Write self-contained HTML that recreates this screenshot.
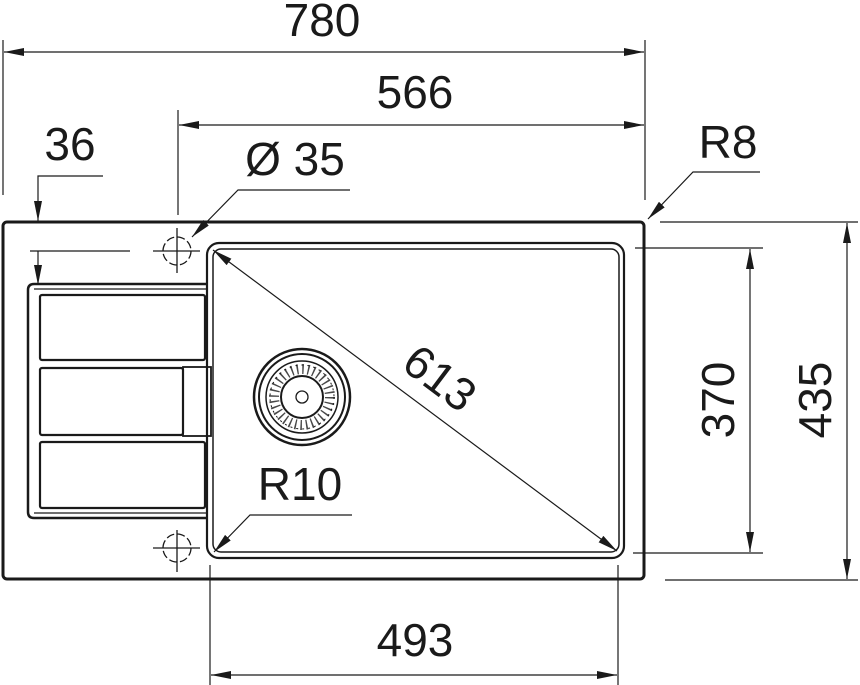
<!DOCTYPE html>
<html><head><style>html,body{margin:0;padding:0;background:#fff}svg{display:block}</style></head>
<body>
<svg width="860" height="685" viewBox="0 0 860 685" xmlns="http://www.w3.org/2000/svg" font-family="Liberation Sans, Arial, sans-serif" font-size="46" fill="#1a1a1a">
<defs>
<marker id="a" viewBox="0 0 20 8" refX="20" refY="4" markerWidth="20" markerHeight="8" markerUnits="userSpaceOnUse" orient="auto-start-reverse"><path d="M0,0 L20,4 L0,8 z" fill="#1a1a1a"/></marker>
</defs>
<g stroke="#1a1a1a" fill="none">
<!-- outer -->
<rect x="3" y="222" width="641" height="357" rx="4" stroke-width="3"/>
<!-- bowl -->
<rect x="207" y="243" width="417" height="315" rx="12" stroke-width="2.2"/>
<rect x="213" y="249" width="406" height="303" rx="8" stroke-width="1.5"/>
<!-- drainer -->
<path d="M207,284 H34 Q28,284 28,290 V512 Q28,518 34,518 H207" stroke-width="2.5"/>
<line x1="34" y1="289" x2="207" y2="289" stroke-width="1.2"/>
<line x1="34" y1="513" x2="207" y2="513" stroke-width="1.2"/>
<rect x="40" y="295" width="165" height="65" rx="2" stroke-width="2.2"/>
<rect x="40" y="368" width="143" height="67" rx="2" stroke-width="2.2"/>
<rect x="183" y="367" width="28" height="69" stroke-width="1.8"/>
<rect x="40" y="442" width="165" height="66" rx="2" stroke-width="2.2"/>
<!-- holes -->
<g stroke-width="1.3">
<circle cx="177" cy="251" r="14" stroke-dasharray="8,3"/>
<line x1="153" y1="251" x2="200" y2="251"/><line x1="177" y1="228" x2="177" y2="273"/>
<circle cx="177" cy="548" r="14" stroke-dasharray="8,3"/>
<line x1="153" y1="548" x2="200" y2="548"/><line x1="177" y1="530" x2="177" y2="572"/>
</g>
<!-- drain -->
<circle cx="302" cy="397" r="48" stroke-width="2.5"/>
<circle cx="302" cy="397" r="43" stroke-width="2"/>
<circle cx="302" cy="397" r="36" stroke-width="1.5"/>
<circle cx="302" cy="397" r="32" stroke-width="1" stroke-dasharray="2,4" stroke="#1a1a1a"/>
<circle cx="302" cy="397" r="28" stroke-width="10" stroke-dasharray="1.5,4" stroke-opacity="0.8"/>
<circle cx="302" cy="397" r="21" stroke-width="2"/>
<circle cx="302" cy="397" r="6" stroke-width="1.3"/>
<!-- dims -->
<g stroke-width="1.2">
<line x1="3" y1="40" x2="3" y2="195"/><line x1="645" y1="40" x2="645" y2="200"/>
<line x1="4" y1="52" x2="644" y2="52" marker-start="url(#a)" marker-end="url(#a)"/>
<line x1="178" y1="110" x2="178" y2="215"/>
<line x1="179" y1="125" x2="644" y2="125" marker-start="url(#a)" marker-end="url(#a)"/>
<polyline points="103,176 38,176 38,221" marker-end="url(#a)"/>
<line x1="38" y1="251" x2="38" y2="285" marker-end="url(#a)"/>
<line x1="30" y1="251" x2="130" y2="251"/>
<polyline points="350,190 238,190 192,237" marker-end="url(#a)"/>
<polyline points="760,172 693,172 648,219" marker-end="url(#a)"/>
<line x1="213" y1="250" x2="617" y2="551" marker-start="url(#a)" marker-end="url(#a)"/>
<polyline points="352,515 250,515 214,552" marker-end="url(#a)"/>
<line x1="635" y1="248" x2="763" y2="248"/><line x1="633" y1="553" x2="763" y2="553"/>
<line x1="750" y1="249" x2="750" y2="552" marker-start="url(#a)" marker-end="url(#a)"/>
<line x1="660" y1="222" x2="858" y2="222"/><line x1="665" y1="580" x2="858" y2="580"/>
<line x1="847" y1="223" x2="847" y2="579" marker-start="url(#a)" marker-end="url(#a)"/>
<line x1="210" y1="565" x2="210" y2="685"/><line x1="618" y1="565" x2="618" y2="685"/>
<line x1="211" y1="675" x2="617" y2="675" marker-start="url(#a)" marker-end="url(#a)"/>
</g>
</g>
<g stroke="none">
<text x="322" y="36" text-anchor="middle">780</text>
<text x="415" y="108" text-anchor="middle">566</text>
<text x="70" y="160" text-anchor="middle">36</text>
<text x="295" y="175" text-anchor="middle">Ø 35</text>
<text x="728" y="158" text-anchor="middle">R8</text>
<text x="300" y="500" text-anchor="middle">R10</text>
<text x="415" y="656" text-anchor="middle">493</text>
<text transform="translate(440,378) rotate(37)" text-anchor="middle" y="16">613</text>
<text transform="translate(718,400) rotate(-90)" text-anchor="middle" y="16">370</text>
<text transform="translate(815,400) rotate(-90)" text-anchor="middle" y="16">435</text>
</g>
</svg>
</body></html>
